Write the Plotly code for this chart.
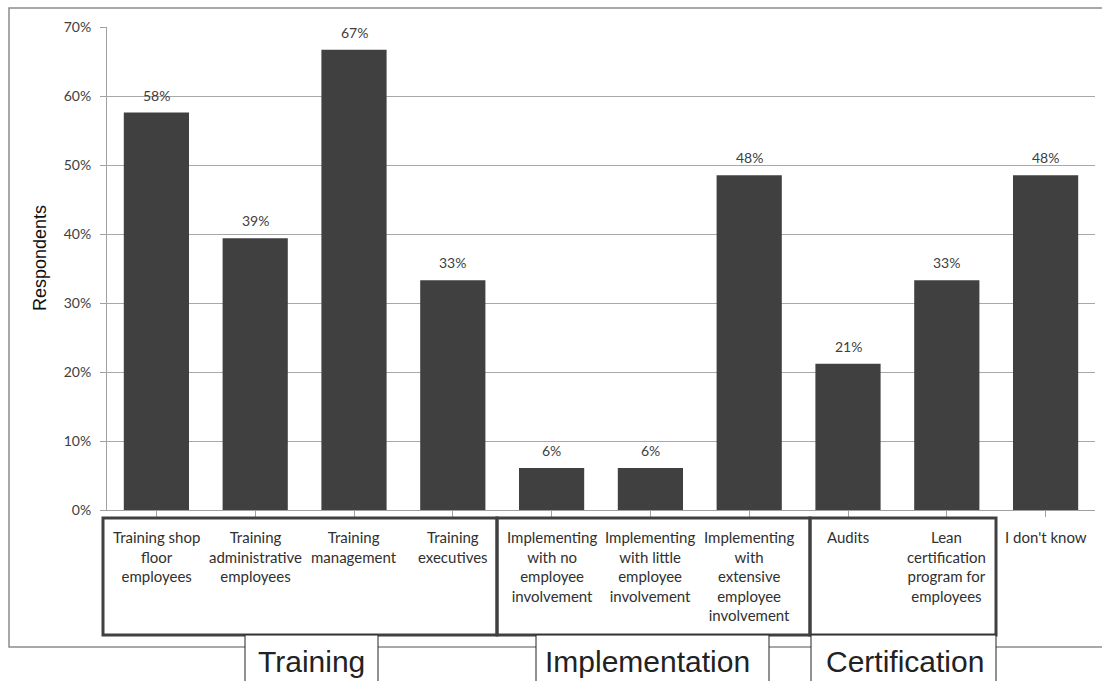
import plotly.graph_objects as go

categories = [
    "Training shop<br>floor<br>employees",
    "Training<br>administrative<br>employees",
    "Training<br>management",
    "Training<br>executives",
    "Implementing<br>with no<br>employee<br>involvement",
    "Implementing<br>with little<br>employee<br>involvement",
    "Implementing<br>with<br>extensive<br>employee<br>involvement",
    "Audits",
    "Lean<br>certification<br>program for<br>employees",
    "I don't know",
]
values = [0.576, 0.394, 0.667, 0.333, 0.061, 0.061, 0.485, 0.212, 0.333, 0.485]
labels = ["58%", "39%", "67%", "33%", "6%", "6%", "48%", "21%", "33%", "48%"]
tick_vals = [0, 0.1, 0.2, 0.3, 0.4, 0.5, 0.6, 0.7]
tick_text = ["0%", "10%", "20%", "30%", "40%", "50%", "60%", "70%"]
groups = ["Training", "Implementation", "Certification"]

W, H = 1102, 681
X0, X1, Y0, Y1 = 107, 1095, 510, 27


def px(x):
    return (x - X0) / (X1 - X0)


def py(y):
    return (Y0 - y) / (Y0 - Y1)


xs = list(range(len(categories)))

fig = go.Figure()
fig.add_trace(go.Bar(
    x=xs, y=values, marker=dict(color="#404040", line=dict(width=0)),
    width=0.66, hoverinfo="skip",
))

shapes = []
# outer chart border
shapes.append(dict(type="rect", xref="paper", yref="paper",
                   x0=px(9), x1=px(1112), y0=py(8), y1=py(647),
                   line=dict(color="#8c8c8c", width=1.5), fillcolor="rgba(0,0,0,0)"))
# thick group boxes
for a, b in [(103, 497), (497, 810), (810, 996)]:
    shapes.append(dict(type="rect", xref="paper", yref="paper",
                       x0=px(a), x1=px(b), y0=py(518), y1=py(635),
                       line=dict(color="#404040", width=3), fillcolor="rgba(0,0,0,0)"))
# group label boxes
label_boxes = [(245, 378), (536, 769), (811, 996)]
for a, b in label_boxes:
    shapes.append(dict(type="rect", xref="paper", yref="paper",
                       x0=px(a), x1=px(b), y0=py(635), y1=py(700),
                       line=dict(color="#222222", width=1), fillcolor="white"))

annotations = []
for i, (v, t) in enumerate(zip(values, labels)):
    annotations.append(dict(x=i, y=v, xref="x", yref="y", text=t,
                            showarrow=False, yanchor="bottom", xanchor="center",
                            yshift=7,
                            font=dict(family="Lato", size=14, color="#404040")))
for i, c in enumerate(categories):
    annotations.append(dict(x=i, y=py(526), xref="x", yref="paper", text=c,
                            showarrow=False, yanchor="top", xanchor="center",
                            align="center",
                            font=dict(family="Lato", size=15, color="#303030")))
for (a, b), g, cx in zip(label_boxes, groups, [311, 647, 905]):
    annotations.append(dict(x=px(cx), y=py(661), xref="paper", yref="paper", text=g,
                            showarrow=False, xanchor="center", yanchor="middle",
                            font=dict(family="Liberation Sans", size=30, color="#222222")))
annotations.append(dict(x=px(40), y=py(258), xref="paper", yref="paper",
                        text="Respondents", textangle=-90, showarrow=False,
                        xanchor="center", yanchor="middle",
                        font=dict(family="Liberation Sans", size=18, color="#111111")))

fig.update_layout(
    width=W, height=H,
    margin=dict(l=X0, r=W - X1, t=Y1, b=H - Y0, pad=0),
    paper_bgcolor="white", plot_bgcolor="white",
    showlegend=False, shapes=shapes, annotations=annotations,
)
fig.update_xaxes(
    range=[-0.5, len(categories) - 0.5], tickmode="array", tickvals=xs,
    showticklabels=False, tickson="boundaries", ticks="outside", ticklen=6,
    tickcolor="#a0a0a0", showline=True, linecolor="#a0a0a0", linewidth=1,
    showgrid=False, zeroline=False, fixedrange=True,
)
fig.update_yaxes(
    range=[0, 0.7], tickmode="array", tickvals=tick_vals, ticktext=tick_text,
    ticks="outside", ticklen=6, tickcolor="#a0a0a0", ticklabelstandoff=6,
    showline=True, linecolor="#a0a0a0", linewidth=1,
    showgrid=True, gridcolor="#a8a8a8", gridwidth=1, zeroline=False,
    tickfont=dict(family="Lato", size=14, color="#404040"), fixedrange=True,
)

fig.write_html("out.html")
